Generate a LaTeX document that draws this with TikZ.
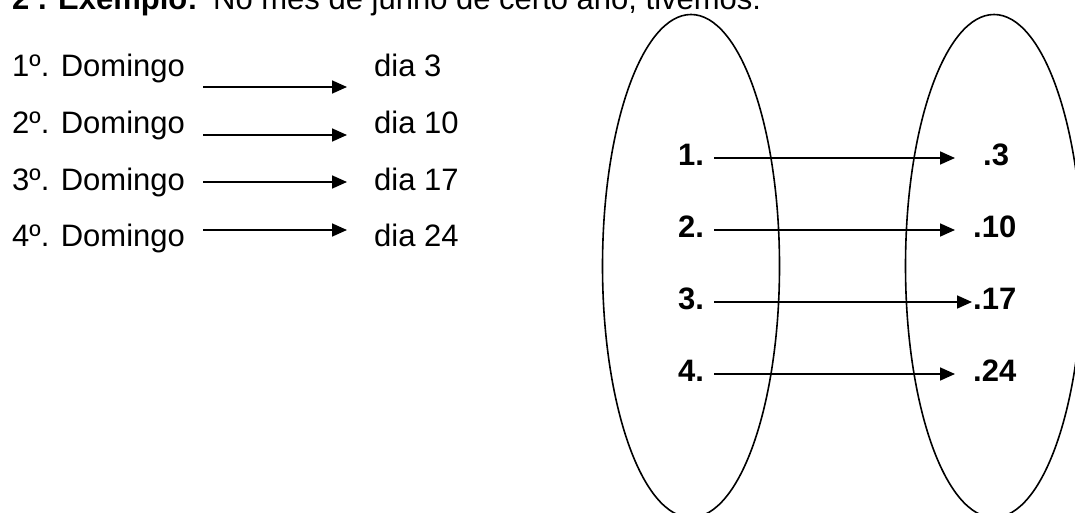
\documentclass[tikz,border=0pt]{standalone}
\usepackage{fontspec}
\setmainfont{Liberation Sans}
\usetikzlibrary{arrows.meta,shapes.geometric}
\begin{document}
\begin{tikzpicture}[x=1pt,y=-1pt,
  txt/.style={inner sep=0pt, anchor=base west, font=\fontsize{31}{37}\selectfont},
  btxt/.style={inner sep=0pt, anchor=base west, font=\fontsize{31}{37}\selectfont\bfseries},
  link/.style={line width=1.7pt, -{Triangle[length=15pt,width=13pt]}},
  setbox/.style={draw, ellipse, line width=1.6pt, inner sep=0pt,
                 minimum width=177pt, minimum height=503pt}]
\useasboundingbox (0,0) rectangle (1075,513);
\clip (0,0) rectangle (1075,513);

% heading
\node[btxt] (hnum) at (12,10) {2 . Exemplo:};
\node[txt]  (htxt) at (213,10) {No mês de junho de certo ano, tivemos:};

% list of Sundays
\node[txt] (s1) at (12,77)    {1º. Domingo};
\node[txt] (s2) at (12,133.5) {2º. Domingo};
\node[txt] (s3) at (12,190)   {3º. Domingo};
\node[txt] (s4) at (12,246)   {4º. Domingo};
\node[txt] (d1) at (374,77)    {dia 3};
\node[txt] (d2) at (374,133.5) {dia 10};
\node[txt] (d3) at (374,190)   {dia 17};
\node[txt] (d4) at (374,246)   {dia 24};

\coordinate (la1) at (203,87);  \coordinate (lb1) at (347,87);
\coordinate (la2) at (203,135); \coordinate (lb2) at (347,135);
\coordinate (la3) at (203,182); \coordinate (lb3) at (347,182);
\coordinate (la4) at (203,230); \coordinate (lb4) at (347,230);
\foreach \i in {1,...,4} \draw[link] (la\i) -- (lb\i);

% the two sets
\node[setbox] (dom) at (691,266) {};
\node[setbox] (cod) at (994,266) {};

% elements
\node[btxt] (e1) at (678,165) {1.};
\node[btxt] (e2) at (678,237) {2.};
\node[btxt] (e3) at (678,309) {3.};
\node[btxt] (e4) at (678,381) {4.};
\node[btxt] (f1) at (983,165) {.3};
\node[btxt] (f2) at (973,237) {.10};
\node[btxt] (f3) at (973,309) {.17};
\node[btxt] (f4) at (973,381) {.24};

\coordinate (ra1) at (714,158); \coordinate (rb1) at (955,158);
\coordinate (ra2) at (714,230); \coordinate (rb2) at (955,230);
\coordinate (ra3) at (714,302); \coordinate (rb3) at (972,302);
\coordinate (ra4) at (714,374); \coordinate (rb4) at (955,374);
\foreach \i in {1,...,4} \draw[link] (ra\i) -- (rb\i);
\end{tikzpicture}
\end{document}
